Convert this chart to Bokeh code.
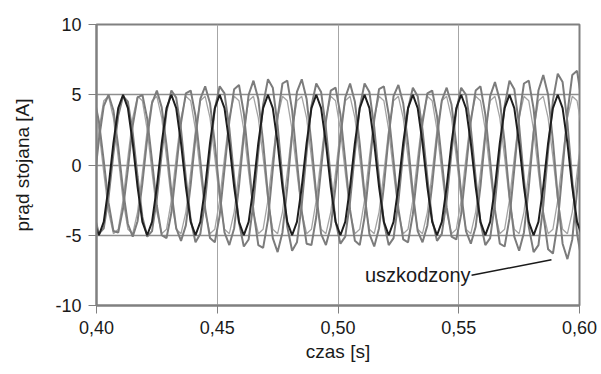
import numpy as np
from bokeh.plotting import figure
from bokeh.models import Range1d, FixedTicker, CustomJSTickFormatter, Label
from bokeh.embed import file_html
from bokeh.resources import INLINE

# sampling grid of the recorded currents (s)
t_start = 0.399
t_step = 0.002

x_ticks = [0.40, 0.45, 0.50, 0.55, 0.60]
y_ticks = [-10, -5, 0, 5, 10]

# healthy motor, phase A (black)
healthy_a = [
    -4.05, -5.0, -4.05, -1.55, 1.55, 4.05, 5.0, 4.05, 1.55, -1.55,
    -4.05, -5.0, -4.05, -1.55, 1.55, 4.05, 5.0, 4.05, 1.55, -1.55,
    -4.05, -5.0, -4.05, -1.55, 1.55, 4.05, 5.0, 4.05, 1.55, -1.55,
    -4.05, -5.0, -4.05, -1.55, 1.55, 4.05, 5.0, 4.05, 1.55, -1.55,
    -4.05, -5.0, -4.05, -1.55, 1.55, 4.05, 5.0, 4.05, 1.55, -1.55,
    -4.05, -5.0, -4.05, -1.55, 1.55, 4.05, 5.0, 4.05, 1.55, -1.55,
    -4.05, -5.0, -4.05, -1.55, 1.55, 4.05, 5.0, 4.05, 1.55, -1.55,
    -4.05, -5.0, -4.05, -1.55, 1.55, 4.05, 5.0, 4.05, 1.55, -1.55,
    -4.05, -5.0, -4.05, -1.55, 1.55, 4.05, 5.0, 4.05, 1.55, -1.55,
    -4.05, -5.0, -4.05, -1.55, 1.55, 4.05, 5.0, 4.05, 1.55, -1.55,
    -4.05, -5.0,
]
# healthy motor, phases B and C (light grey)
healthy_b = [
    4.57, 2.5, -0.52, -3.35, -4.89, -4.57, -2.5, 0.52, 3.35, 4.89,
    4.57, 2.5, -0.52, -3.35, -4.89, -4.57, -2.5, 0.52, 3.35, 4.89,
    4.57, 2.5, -0.52, -3.35, -4.89, -4.57, -2.5, 0.52, 3.35, 4.89,
    4.57, 2.5, -0.52, -3.35, -4.89, -4.57, -2.5, 0.52, 3.35, 4.89,
    4.57, 2.5, -0.52, -3.35, -4.89, -4.57, -2.5, 0.52, 3.35, 4.89,
    4.57, 2.5, -0.52, -3.35, -4.89, -4.57, -2.5, 0.52, 3.35, 4.89,
    4.57, 2.5, -0.52, -3.35, -4.89, -4.57, -2.5, 0.52, 3.35, 4.89,
    4.57, 2.5, -0.52, -3.35, -4.89, -4.57, -2.5, 0.52, 3.35, 4.89,
    4.57, 2.5, -0.52, -3.35, -4.89, -4.57, -2.5, 0.52, 3.35, 4.89,
    4.57, 2.5, -0.52, -3.35, -4.89, -4.57, -2.5, 0.52, 3.35, 4.89,
    4.57, 2.5,
]
healthy_c = [
    -0.52, 2.5, 4.57, 4.89, 3.35, 0.52, -2.5, -4.57, -4.89, -3.35,
    -0.52, 2.5, 4.57, 4.89, 3.35, 0.52, -2.5, -4.57, -4.89, -3.35,
    -0.52, 2.5, 4.57, 4.89, 3.35, 0.52, -2.5, -4.57, -4.89, -3.35,
    -0.52, 2.5, 4.57, 4.89, 3.35, 0.52, -2.5, -4.57, -4.89, -3.35,
    -0.52, 2.5, 4.57, 4.89, 3.35, 0.52, -2.5, -4.57, -4.89, -3.35,
    -0.52, 2.5, 4.57, 4.89, 3.35, 0.52, -2.5, -4.57, -4.89, -3.35,
    -0.52, 2.5, 4.57, 4.89, 3.35, 0.52, -2.5, -4.57, -4.89, -3.35,
    -0.52, 2.5, 4.57, 4.89, 3.35, 0.52, -2.5, -4.57, -4.89, -3.35,
    -0.52, 2.5, 4.57, 4.89, 3.35, 0.52, -2.5, -4.57, -4.89, -3.35,
    -0.52, 2.5, 4.57, 4.89, 3.35, 0.52, -2.5, -4.57, -4.89, -3.35,
    -0.52, 2.5,
]
# damaged motor ("uszkodzony"), phases A, B, C (medium grey)
damaged_a = [
    -3.5, -4.9, -4.5, -2.3, 0.8, 3.5, 4.9, 4.5, 2.3, -0.8,
    -3.7, -5.1, -4.7, -2.4, 0.8, 3.8, 5.3, 4.8, 2.5, -0.9,
    -3.9, -5.5, -4.9, -2.5, 0.9, 4.0, 5.6, 5.1, 2.6, -0.9,
    -4.1, -5.8, -5.3, -2.7, 0.9, 4.3, 6.1, 5.5, 2.8, -1.0,
    -4.4, -6.1, -5.5, -2.8, 0.9, 4.2, 5.8, 5.2, 2.6, -0.9,
    -4.0, -5.6, -5.1, -2.6, 0.9, 4.1, 5.8, 5.2, 2.7, -0.9,
    -4.1, -5.7, -5.2, -2.6, 0.9, 4.0, 5.5, 4.9, 2.5, -0.9,
    -3.9, -5.4, -4.9, -2.5, 0.9, 3.9, 5.5, 5.0, 2.6, -0.9,
    -4.1, -5.7, -5.2, -2.7, 0.9, 4.2, 6.0, 5.4, 2.8, -1.0,
    -4.4, -6.2, -5.7, -2.9, 1.0, 4.6, 6.5, 5.9, 3.0, -1.1,
    -4.9, -6.9,
]
damaged_b = [
    4.8, 3.1, 0.3, -2.7, -4.7, -4.8, -3.1, -0.3, 2.8, 4.8,
    5.0, 3.3, 0.3, -2.9, -5.0, -5.2, -3.4, -0.3, 3.0, 5.1,
    5.3, 3.5, 0.3, -3.1, -5.2, -5.5, -3.6, -0.3, 3.1, 5.4,
    5.7, 3.7, 0.3, -3.3, -5.7, -5.9, -3.9, -0.3, 3.4, 5.8,
    6.0, 3.9, 0.3, -3.3, -5.6, -5.7, -3.7, -0.3, 3.1, 5.3,
    5.5, 3.6, 0.3, -3.2, -5.4, -5.7, -3.7, -0.3, 3.2, 5.4,
    5.6, 3.6, 0.3, -3.1, -5.3, -5.5, -3.5, -0.3, 3.0, 5.1,
    5.3, 3.5, 0.3, -3.0, -5.1, -5.3, -3.5, -0.3, 3.1, 5.3,
    5.6, 3.6, 0.3, -3.2, -5.6, -5.8, -3.8, -0.3, 3.4, 5.8,
    6.0, 4.0, 0.3, -3.5, -6.0, -6.3, -4.1, -0.3, 3.7, 6.4,
    6.7, 4.4,
]
damaged_c = [
    -1.3, 1.8, 4.2, 5.0, 3.9, 1.3, -1.8, -4.2, -5.1, -4.0,
    -1.3, 1.9, 4.4, 5.3, 4.1, 1.4, -1.9, -4.5, -5.4, -4.3,
    -1.4, 2.0, 4.7, 5.6, 4.4, 1.5, -2.0, -4.8, -5.7, -4.5,
    -1.5, 2.1, 5.0, 6.0, 4.7, 1.6, -2.2, -5.2, -6.2, -4.8,
    -1.6, 2.2, 5.2, 6.1, 4.7, 1.5, -2.1, -4.9, -5.7, -4.4,
    -1.5, 2.0, 4.8, 5.8, 4.5, 1.5, -2.1, -4.9, -5.8, -4.5,
    -1.5, 2.1, 4.9, 5.7, 4.4, 1.5, -2.0, -4.7, -5.5, -4.3,
    -1.4, 2.0, 4.6, 5.5, 4.3, 1.4, -2.0, -4.7, -5.6, -4.4,
    -1.5, 2.1, 4.9, 5.9, 4.6, 1.6, -2.2, -5.1, -6.1, -4.8,
    -1.6, 2.3, 5.3, 6.4, 5.0, 1.7, -2.3, -5.6, -6.7, -5.3,
    -1.8, 2.5,
]

# annotation (text end -> pointed trough)
note_text = "uszkodzony"
note_x0, note_y0 = 0.5553, -7.85
note_x1, note_y1 = 0.5884, -6.75

t = t_start + t_step * np.arange(len(healthy_a))

FONT = "Liberation Sans"
GRID = "#8e8e8e"
FRAME = "#808080"

p = figure(width=601, height=374, output_backend="svg", toolbar_location=None,
           x_range=Range1d(0.40, 0.60), y_range=Range1d(-10, 10),
           min_border_left=96, min_border_right=22, min_border_top=24,
           min_border_bottom=69)
p.background_fill_color = "white"
p.border_fill_color = "white"
p.outline_line_color = FRAME
p.outline_line_width = 2

p.xgrid.grid_line_color = "#a6a6a6"
p.xgrid.grid_line_width = 1
p.ygrid.grid_line_color = GRID
p.ygrid.grid_line_width = 1.5

p.xaxis.ticker = FixedTicker(ticks=x_ticks)
p.yaxis.ticker = FixedTicker(ticks=y_ticks)
p.xaxis.formatter = CustomJSTickFormatter(code="return tick.toFixed(2).replace('.', ',')")
p.yaxis.formatter = CustomJSTickFormatter(code="return tick.toFixed(0)")

for ax in (p.xaxis[0], p.yaxis[0]):
    ax.axis_line_color = FRAME
    ax.axis_line_width = 2
    ax.major_tick_line_color = FRAME
    ax.major_tick_line_width = 1
    ax.major_tick_in = 0
    ax.major_tick_out = 8
    ax.minor_tick_line_color = None
    ax.major_label_text_font = FONT
    ax.major_label_text_font_size = "18px"
    ax.major_label_text_color = "#1a1a1a"
    ax.axis_label_text_font = FONT
    ax.axis_label_text_font_size = "19px"
    ax.axis_label_text_font_style = "normal"
    ax.axis_label_text_color = "#1a1a1a"

p.xaxis.axis_label = "czas [s]"
p.yaxis.axis_label = "prąd stojana [A]"
p.xaxis.major_label_standoff = 7
p.xaxis.axis_label_standoff = 4
p.yaxis.major_label_standoff = 7
p.yaxis.axis_label_standoff = 19

p.line(t, healthy_b, line_color="#a4a4a4", line_width=1.3)
p.line(t, healthy_c, line_color="#a4a4a4", line_width=1.3)
p.line(t, damaged_a, line_color="#7c7c7c", line_width=2)
p.line(t, damaged_b, line_color="#7c7c7c", line_width=2)
p.line(t, damaged_c, line_color="#7c7c7c", line_width=2)
p.line(t, healthy_a, line_color="#1e1e1e", line_width=2)

p.segment(x0=[note_x0], y0=[note_y0], x1=[note_x1], y1=[note_y1],
          line_color="#1a1a1a", line_width=1.5)
p.add_layout(Label(x=note_x0, y=note_y0, text=note_text, text_align="right",
                   text_baseline="middle", text_font=FONT, text_font_size="20px",
                   text_color="#1a1a1a", x_offset=-1))

open("out.html", "w").write(file_html(p, INLINE))
